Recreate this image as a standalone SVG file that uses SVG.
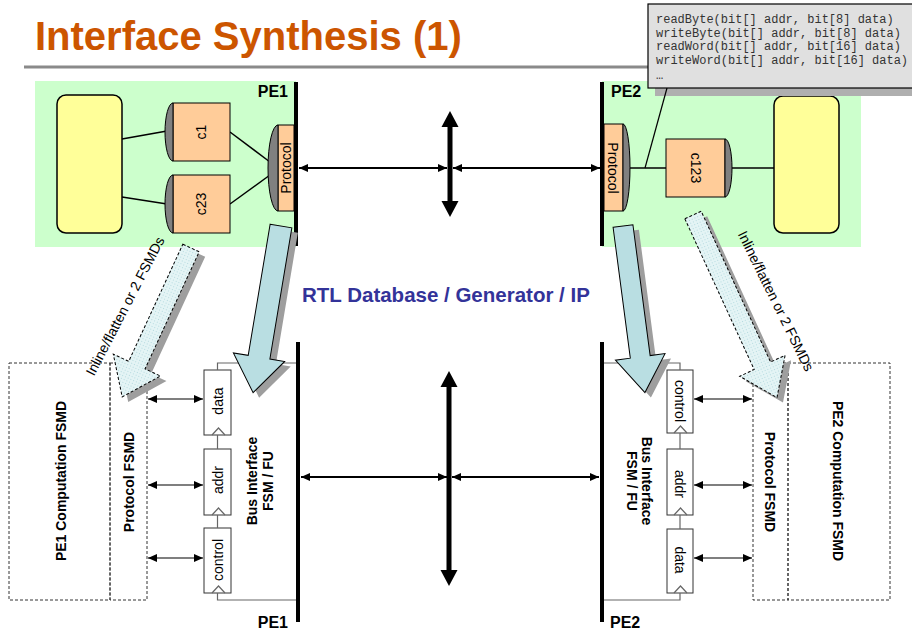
<svg xmlns="http://www.w3.org/2000/svg" xmlns:xlink="http://www.w3.org/1999/xlink" width="912" height="631" viewBox="0 0 912 631">
  <style>
    text { font-family: "Liberation Sans", Arial, sans-serif; }
    .title { font-size: 40px; font-weight: bold; fill: #CC5500; }
    .pe { font-size: 16px; font-weight: bold; fill: #000; }
    .lbl { font-size: 14px; fill: #000; text-anchor: middle; dominant-baseline: central; }
    .blbl { font-size: 14px; font-weight: bold; fill: #000; text-anchor: middle; dominant-baseline: central; }
    .code { font-family: "Liberation Mono", "Courier New", monospace; font-size: 12px; fill: #333; }
    .panel { fill: #CCFFCC; }
    .bar { stroke: #000; stroke-width: 4; fill: none; }
    .beh { fill: #FFFF99; stroke: #000; stroke-width: 1.5; }
    .chan { fill: #FFCC99; stroke: #000; stroke-width: 1; }
    .lens { fill: #808080; stroke: #000; stroke-width: 1; }
    .wire { stroke: #000; stroke-width: 1.5; fill: none; }
    .thin { stroke: #000; stroke-width: 1.2; fill: none; }
    .link { stroke: #000; stroke-width: 1.8; fill: none; }
    .gline { stroke: #666; stroke-width: 1.2; fill: none; }
    .reg { fill: #fff; stroke: #333; stroke-width: 1; }
    .fsmd { fill: none; stroke: #333; stroke-width: 1; stroke-dasharray: 3 2; }
    .solid { fill: #B9DEE2; stroke: #000; stroke-width: 1; }
    .hatch { fill: url(#dots); stroke: #000; stroke-width: 1; stroke-dasharray: 3 2; }
    .shadow { fill: #9E9E9E; stroke: none; }
    .bus { fill: #000; }
  </style>
  <defs>
    <marker id="ah" markerUnits="userSpaceOnUse" markerWidth="9" markerHeight="8" refX="9" refY="4" orient="auto-start-reverse">
      <path d="M0,0 L9,4 L0,8 Z" fill="#000"/>
    </marker>
    <pattern id="dots" width="3" height="3" patternUnits="userSpaceOnUse">
      <rect width="3" height="3" fill="#E4F4F5"/>
      <rect width="1" height="1" fill="#B5DADF"/>
    </pattern>
    <!-- refinement arrows, drawn pointing down then rotated into place -->
    <polygon id="arrL" points="-11,0 11,0 11,133 26,133 0,169 -26,133 -11,133" transform="translate(281,226) rotate(9.5)"/>
    <polygon id="arrR" points="-10,0 10,0 10,132 25,132 0,168 -25,132 -10,132" transform="translate(623,226) rotate(-7.5)"/>
    <polygon id="dashL" points="-9,0 9,0 9,129 26,129 0,164 -26,129 -9,129" transform="translate(191,248) rotate(24.8)"/>
    <polygon id="dashR" points="-9,0 9,0 9,166 25,166 0,201 -25,166 -9,166" transform="translate(693,215) rotate(-24.7)"/>
  </defs>

  <!-- heading -->
  <g id="heading">
    <text class="title" x="35" y="50">Interface Synthesis (1)</text>
    <line x1="24" y1="67" x2="912" y2="67" stroke="#8A8A8A" stroke-width="3"/>
  </g>

  <!-- PE1 specification level -->
  <g id="pe1-top">
    <rect class="panel" x="35" y="81" width="261" height="166"/>
    <rect class="beh" x="57" y="95" width="65" height="138" rx="9"/>
    <text class="pe" x="288" y="97" text-anchor="end">PE1</text>
  </g>
  <g id="pe2-top">
    <rect class="panel" x="602" y="81" width="259" height="166"/>
    <rect class="beh" x="774" y="96" width="65" height="137" rx="9"/>
    <text class="pe" x="611" y="97">PE2</text>
  </g>

  <g id="connectors-top">
    <line class="wire" x1="122" y1="139" x2="167" y2="131"/>
    <line class="wire" x1="122" y1="197" x2="167" y2="204"/>
    <line class="wire" x1="230" y1="132" x2="270" y2="162"/>
    <line class="wire" x1="230" y1="204" x2="270" y2="175"/>
    <line class="wire" x1="630" y1="168" x2="666" y2="168"/>
    <line class="wire" x1="732" y1="168" x2="774" y2="168"/>
    <line class="link" x1="299" y1="168" x2="447" y2="168" marker-start="url(#ah)" marker-end="url(#ah)"/>
    <line class="link" x1="453" y1="168" x2="600" y2="168" marker-start="url(#ah)" marker-end="url(#ah)"/>
    <path class="bus" d="M450,111 L458.5,127 L452.5,127 L452.5,201 L458.5,201 L450,217 L441.5,201 L447.5,201 L447.5,127 L441.5,127 Z"/>
    <line class="bar" x1="296" y1="82" x2="296" y2="246"/>
    <line class="bar" x1="602" y1="82" x2="602" y2="246"/>
  </g>

  <g id="c1">
    <rect class="chan" x="173" y="103" width="57" height="58"/>
    <path class="lens" d="M173,103 A8,29 0 0 0 173,161 Z"/>
    <text class="lbl" transform="translate(201,132) rotate(-90)">c1</text>
  </g>
  <g id="c23">
    <rect class="chan" x="173" y="175" width="57" height="58"/>
    <path class="lens" d="M173,175 A8,29 0 0 0 173,233 Z"/>
    <text class="lbl" transform="translate(201,204) rotate(-90)">c23</text>
  </g>
  <g id="protocol1">
    <rect class="chan" x="278" y="125" width="16" height="86"/>
    <path class="lens" d="M278,125 A10,43 0 0 0 278,211 Z"/>
    <text class="lbl" transform="translate(286,168) rotate(-90)">Protocol</text>
  </g>
  <g id="protocol2">
    <rect class="chan" x="604" y="124" width="19" height="87"/>
    <path class="lens" d="M623,124 A7,43.5 0 0 1 623,211 Z"/>
    <text class="lbl" transform="translate(613,168) rotate(90)">Protocol</text>
  </g>
  <g id="c123">
    <rect class="chan" x="666" y="139" width="59" height="58"/>
    <path class="lens" d="M725,139 A7,29 0 0 1 725,197 Z"/>
    <text class="lbl" transform="translate(696,168) rotate(90)">c123</text>
  </g>

  <!-- method list callout -->
  <g id="callout">
    <rect x="655" y="88" width="263" height="8" fill="#AFAFAF"/>
    <line class="thin" x1="645" y1="168" x2="667" y2="88"/>
    <rect x="648" y="4" width="270" height="84" fill="#E0E0E0" stroke="#000" stroke-width="1.2"/>
    <text class="code" x="656" y="23">readByte(bit[] addr, bit[8] data)</text>
    <text class="code" x="656" y="36.5">writeByte(bit[] addr, bit[8] data)</text>
    <text class="code" x="656" y="50">readWord(bit[] addr, bit[16] data)</text>
    <text class="code" x="656" y="63.5">writeWord(bit[] addr, bit[16] data)</text>
    <text class="code" x="656" y="79">…</text>
  </g>

  <g id="rtl-label">
    <text x="302" y="302" font-size="20.5" font-weight="bold" fill="#333399">RTL Database / Generator / IP</text>
  </g>

  <!-- PE1 implementation level -->
  <g id="pe1-comp">
    <rect class="fsmd" x="9" y="363" width="101" height="237"/>
    <text class="blbl" transform="translate(61,481) rotate(-90)">PE1 Computation FSMD</text>
  </g>
  <g id="pe1-protocol">
    <rect class="fsmd" x="110" y="363" width="37" height="237"/>
    <text class="blbl" transform="translate(129,482) rotate(-90)">Protocol FSMD</text>
  </g>
  <g id="pe1-regs">
    <rect class="reg" x="204" y="370" width="27" height="65"/>
    <polyline class="gline" points="212,435 218.5,428 225,435"/>
    <text class="lbl" transform="translate(218,401) rotate(-90)">data</text>
    <rect class="reg" x="204" y="449" width="27" height="66"/>
    <polyline class="gline" points="212,515 218.5,508 225,515"/>
    <text class="lbl" transform="translate(218,480) rotate(-90)">addr</text>
    <rect class="reg" x="204" y="528" width="27" height="65"/>
    <polyline class="gline" points="212,593 218.5,586 225,593"/>
    <text class="lbl" transform="translate(218,560) rotate(-90)">control</text>
    <text class="blbl" transform="translate(252,481) rotate(-90)">Bus Interface</text>
    <text class="blbl" transform="translate(268,481) rotate(-90)">FSM / FU</text>
  </g>

  <!-- PE2 implementation level -->
  <g id="pe2-protocol">
    <rect class="fsmd" x="753" y="363" width="35" height="237"/>
    <text class="blbl" transform="translate(770,482) rotate(90)">Protocol FSMD</text>
  </g>
  <g id="pe2-comp">
    <rect class="fsmd" x="788" y="363" width="102" height="237"/>
    <text class="blbl" transform="translate(838,481) rotate(90)">PE2 Computation FSMD</text>
  </g>
  <g id="pe2-regs">
    <rect class="reg" x="667" y="370" width="26" height="63"/>
    <polyline class="gline" points="674,433 680.5,426 687,433"/>
    <text class="lbl" transform="translate(680,401) rotate(90)">control</text>
    <rect class="reg" x="667" y="449" width="26" height="66"/>
    <polyline class="gline" points="674,515 680.5,508 687,515"/>
    <text class="lbl" transform="translate(680,484) rotate(90)">addr</text>
    <rect class="reg" x="667" y="529" width="26" height="64"/>
    <polyline class="gline" points="674,593 680.5,586 687,593"/>
    <text class="lbl" transform="translate(680,560) rotate(90)">data</text>
    <text class="blbl" transform="translate(647,481) rotate(90)">Bus Interface</text>
    <text class="blbl" transform="translate(632,481) rotate(90)">FSM / FU</text>
  </g>

  <g id="connectors-bottom">
    <path class="gline" d="M217.5,370 V363 H297"/>
    <path class="gline" d="M217.5,593 V600 H297"/>
    <line class="gline" x1="217.5" y1="435" x2="217.5" y2="449"/>
    <line class="gline" x1="217.5" y1="515" x2="217.5" y2="528"/>
    <path class="gline" d="M680,370 V363 H603"/>
    <path class="gline" d="M680,593 V600 H603"/>
    <line class="gline" x1="680" y1="433" x2="680" y2="449"/>
    <line class="gline" x1="680" y1="515" x2="680" y2="529"/>
    <line class="thin" x1="148" y1="399" x2="203" y2="399" marker-start="url(#ah)" marker-end="url(#ah)"/>
    <line class="thin" x1="148" y1="485" x2="203" y2="485" marker-start="url(#ah)" marker-end="url(#ah)"/>
    <line class="thin" x1="148" y1="558" x2="203" y2="558" marker-start="url(#ah)" marker-end="url(#ah)"/>
    <line class="thin" x1="694" y1="399" x2="752" y2="399" marker-start="url(#ah)" marker-end="url(#ah)"/>
    <line class="thin" x1="694" y1="485" x2="752" y2="485" marker-start="url(#ah)" marker-end="url(#ah)"/>
    <line class="thin" x1="694" y1="558" x2="752" y2="558" marker-start="url(#ah)" marker-end="url(#ah)"/>
    <line class="link" x1="301" y1="477" x2="447" y2="477" marker-start="url(#ah)" marker-end="url(#ah)"/>
    <line class="link" x1="452" y1="477" x2="599" y2="477" marker-start="url(#ah)" marker-end="url(#ah)"/>
    <path class="bus" d="M449,371 L457.5,387 L451.5,387 L451.5,570 L457.5,570 L449,586 L440.5,570 L446.5,570 L446.5,387 L440.5,387 Z"/>
    <line class="bar" x1="298" y1="342" x2="298" y2="622"/>
    <line class="bar" x1="602" y1="342" x2="602" y2="622"/>
    <text class="pe" x="288" y="628" text-anchor="end">PE1</text>
    <text class="pe" x="610" y="628">PE2</text>
  </g>

  <!-- refinement arrows -->
  <g id="refine-arrows">
    <use xlink:href="#dashL" class="shadow" transform="translate(6,5)"/>
    <use xlink:href="#dashL" class="hatch"/>
    <use xlink:href="#dashR" class="shadow" transform="translate(6,5)"/>
    <use xlink:href="#dashR" class="hatch"/>
    <use xlink:href="#arrL" class="shadow" transform="translate(6,5)"/>
    <use xlink:href="#arrL" class="solid"/>
    <use xlink:href="#arrR" class="shadow" transform="translate(6,5)"/>
    <use xlink:href="#arrR" class="solid"/>
    <text class="lbl" transform="translate(125,306) rotate(-62.6)">Inline/flatten or 2 FSMDs</text>
    <text class="lbl" transform="translate(776,301) rotate(63.8)">Inline/flatten or 2 FSMDs</text>
  </g>
</svg>
